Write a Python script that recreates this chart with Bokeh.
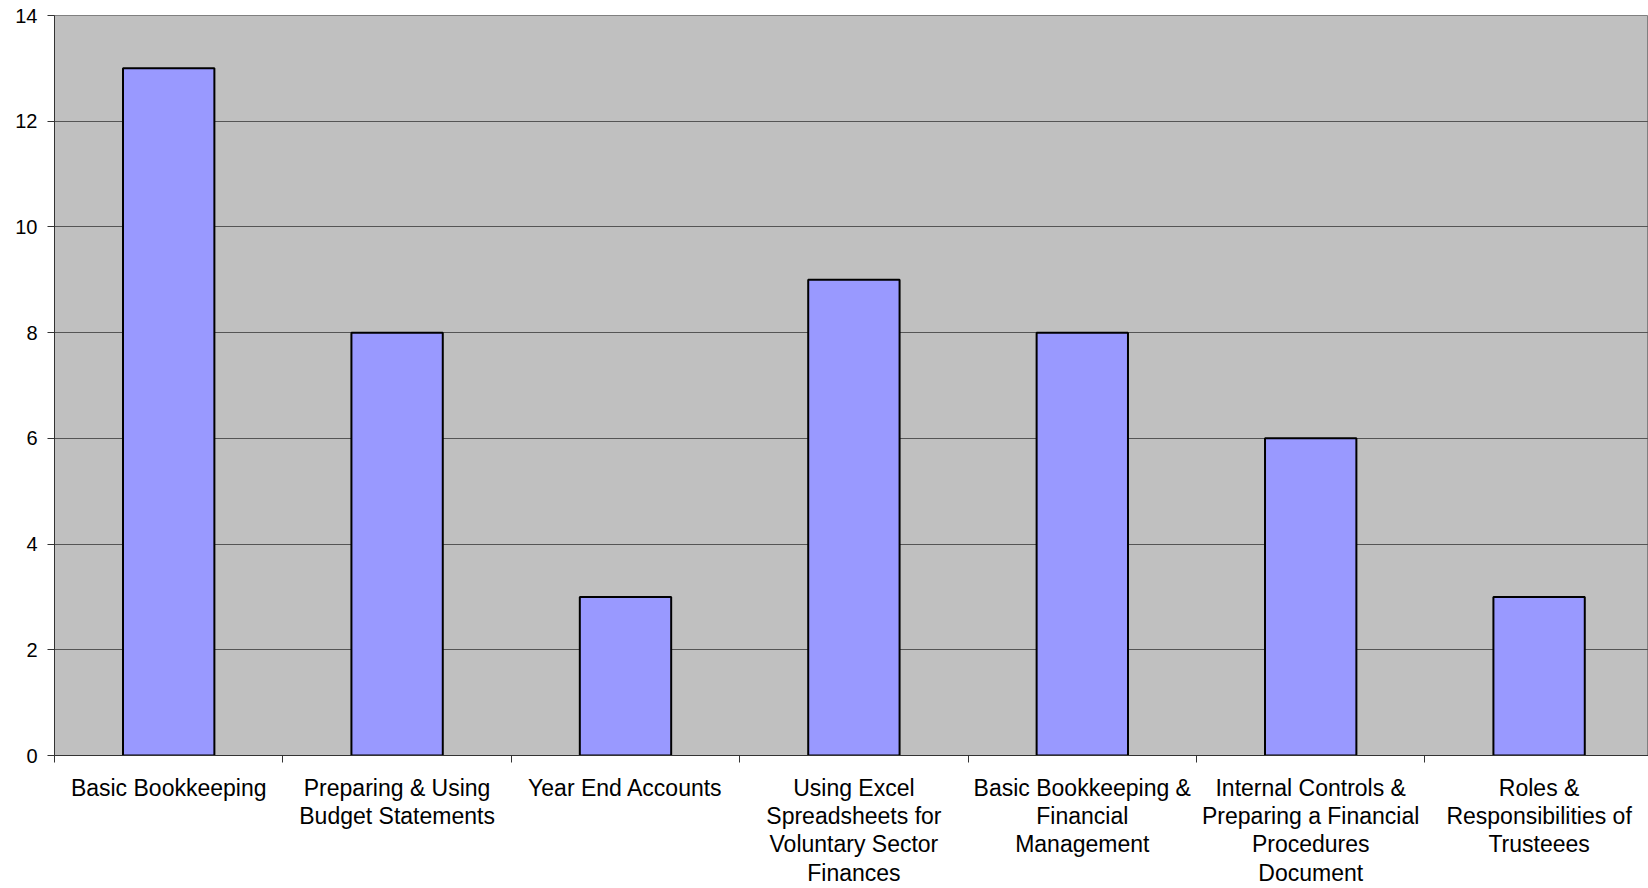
from bokeh.plotting import figure
from bokeh.models import Range1d, FixedTicker, ColumnDataSource
from bokeh.embed import file_html
from bokeh.resources import INLINE

# Course titles (one bar each) and number of attendees
courses = [
    "Basic Bookkeeping",
    "Preparing & Using\nBudget Statements",
    "Year End Accounts",
    "Using Excel\nSpreadsheets for\nVoluntary Sector\nFinances",
    "Basic Bookkeeping &\nFinancial\nManagement",
    "Internal Controls &\nPreparing a Financial\nProcedures\nDocument",
    "Roles &\nResponsibilities of\nTrusteees",
]
attendees = [13, 8, 3, 9, 8, 6, 3]
y_ticks = [0, 2, 4, 6, 8, 10, 12, 14]

centers = [i + 0.5 for i in range(len(courses))]
boundaries = list(range(len(courses) + 1))

src = ColumnDataSource(dict(x=centers, top=attendees))

FONT = "Liberation Sans"

p = figure(
    width=1648, height=888,
    x_range=Range1d(0, 6.979), y_range=Range1d(0, 14),
    output_backend="svg", toolbar_location=None,
    min_border_left=54, min_border_right=0,
    min_border_top=15, min_border_bottom=133,
)
p.background_fill_color = "#c0c0c0"
p.border_fill_color = "white"
p.outline_line_color = "#808080"
p.outline_line_width = 1

p.vbar(x="x", top="top", width=0.4, source=src,
       fill_color="#9999ff", line_color="black", line_width=2)

# horizontal grid only
p.xgrid.grid_line_color = None
p.ygrid.ticker = FixedTicker(ticks=y_ticks)
p.ygrid.grid_line_color = "#555555"
p.ygrid.grid_line_width = 1

# y axis
p.yaxis.ticker = FixedTicker(ticks=y_ticks)
p.yaxis.axis_line_color = "#333333"
p.yaxis.major_tick_line_color = "#333333"
p.yaxis.major_tick_out = 7
p.yaxis.major_tick_in = 0
p.yaxis.minor_tick_line_color = None
p.yaxis.major_label_text_font = FONT
p.yaxis.major_label_text_font_size = "20px"
p.yaxis.major_label_text_color = "black"
p.yaxis.major_label_standoff = 10

# x axis: labels at category centres, tick marks at category boundaries
p.xaxis.ticker = FixedTicker(ticks=centers, minor_ticks=boundaries)
p.xaxis.major_label_overrides = {c: name for c, name in zip(centers, courses)}
p.xaxis.axis_line_color = "#333333"
p.xaxis.major_tick_line_color = None
p.xaxis.major_tick_out = 0
p.xaxis.major_tick_in = 0
p.xaxis.minor_tick_line_color = "#333333"
p.xaxis.minor_tick_out = 7
p.xaxis.minor_tick_in = 0
p.xaxis.major_label_text_font = FONT
p.xaxis.major_label_text_font_size = "23px"
p.xaxis.major_label_text_line_height = 1.09
p.xaxis.major_label_text_color = "black"
p.xaxis.major_label_standoff = 12
p.xaxis.major_label_orientation = "horizontal"

open("out.html", "w").write(file_html(p, INLINE))
